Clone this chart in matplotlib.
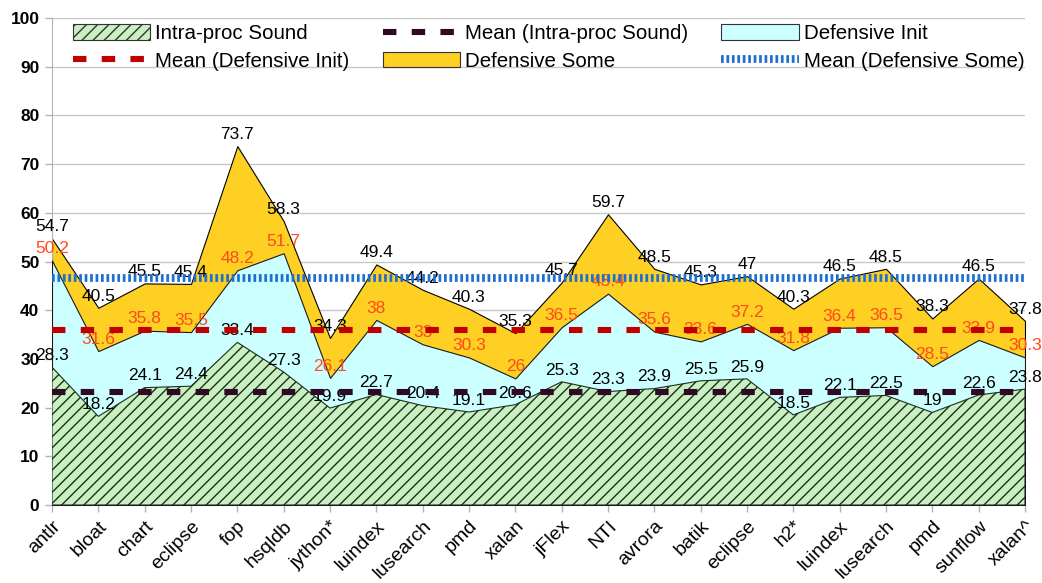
import matplotlib
matplotlib.use("Agg")
import matplotlib.pyplot as plt
from matplotlib.patches import Patch
from matplotlib.lines import Line2D
import numpy as np

plt.rcParams['font.family'] = ['Liberation Sans', 'DejaVu Sans']
plt.rcParams['hatch.linewidth'] = 1.0

benchmarks = ["antlr", "bloat", "chart", "eclipse", "fop", "hsqldb", "jython*",
              "luindex", "lusearch", "pmd", "xalan", "jFlex", "NTI", "avrora",
              "batik", "eclipse", "h2*", "luindex", "lusearch", "pmd", "sunflow",
              "xalan^"]
intra_sound = [28.3, 18.2, 24.1, 24.4, 33.4, 27.3, 19.9, 22.7, 20.4, 19.1, 20.6,
               25.3, 23.3, 23.9, 25.5, 25.9, 18.5, 22.1, 22.5, 19, 22.6, 23.8]
defensive_init = [50.2, 31.6, 35.8, 35.5, 48.2, 51.7, 26.1, 38, 33, 30.3, 26,
                  36.5, 43.4, 35.6, 33.6, 37.2, 31.8, 36.4, 36.5, 28.5, 33.9, 30.3]
defensive_some = [54.7, 40.5, 45.5, 45.4, 73.7, 58.3, 34.3, 49.4, 44.2, 40.3, 35.3,
                  45.7, 59.7, 48.5, 45.3, 47, 40.3, 46.5, 48.5, 38.3, 46.5, 37.8]

C_SOME = '#fdd023'
C_INIT = '#ccffff'
C_INTRA = '#c8f0c0'
C_MEAN_INTRA = '#2e0a24'
C_MEAN_INIT = '#c00000'
C_MEAN_SOME = '#1f6fd0'

fig = plt.figure(figsize=(10.42, 5.83), dpi=100)
ax = fig.add_axes([52 / 1042, 78 / 583, 973 / 1042, 487 / 583])
x = np.arange(len(benchmarks))

ax.fill_between(x, defensive_some, facecolor=C_SOME, edgecolor='black', lw=0.8, zorder=2)
ax.fill_between(x, defensive_init, facecolor=C_INIT, edgecolor='#1a1a1a', lw=0.8, zorder=3)
ax.fill_between(x, intra_sound, facecolor=C_INTRA, edgecolor='#1e2e1e', hatch='///',
                lw=0.8, zorder=4)

def label_series(vals, color):
    for xi, v in zip(x, vals):
        ax.annotate(f"{v:g}", (xi, v), xytext=(0, 3), textcoords='offset points',
                    ha='center', va='bottom', fontsize=12.5, color=color,
                    zorder=5, annotation_clip=False)

label_series(defensive_some, 'black')
label_series(defensive_init, '#ff4a1a')
label_series(intra_sound, 'black')

mean_intra = np.mean(intra_sound)
mean_init = np.mean(defensive_init)
mean_some = np.mean(defensive_some)

dash = (0, (2.2, 2.5))
dots = (0, (0.35, 0.35))
ax.plot([0, len(x) - 1], [mean_intra] * 2, color=C_MEAN_INTRA, lw=4.4, ls=dash, zorder=6)
ax.plot([0, len(x) - 1], [mean_init] * 2, color=C_MEAN_INIT, lw=4.4, ls=dash, zorder=6)
ax.plot([0, len(x) - 1], [mean_some] * 2, color=C_MEAN_SOME, lw=5.6, ls=dots, zorder=6)

ax.set_xlim(0, len(x) - 1)
ax.set_ylim(0, 100)
ax.set_yticks(np.arange(0, 101, 10))
ax.set_yticklabels([str(v) for v in range(0, 101, 10)], fontsize=12.5, fontweight='bold')
ax.set_xticks(x)
ax.set_xticklabels(benchmarks, rotation=45, ha='right', rotation_mode='anchor', fontsize=14)
ax.tick_params(axis='both', color='#b3b3b3', length=5, width=1)
ax.tick_params(axis='y', pad=4)
ax.tick_params(axis='x', pad=4)
ax.grid(axis='y', color='#c8c8c8', lw=1, zorder=0)
ax.set_axisbelow(True)
for s in ['top', 'right']:
    ax.spines[s].set_visible(False)
for s in ['left', 'bottom']:
    ax.spines[s].set_color('#b3b3b3')

handles = [
    Patch(facecolor=C_INTRA, edgecolor='#333333', hatch='///', lw=0.8),
    Line2D([], [], color=C_MEAN_INIT, lw=4.4, ls=dash),
    Line2D([], [], color=C_MEAN_INTRA, lw=4.4, ls=dash),
    Patch(facecolor=C_SOME, edgecolor='#333333', lw=0.8),
    Patch(facecolor=C_INIT, edgecolor='#333333', lw=0.8),
    Line2D([], [], color=C_MEAN_SOME, lw=5.6, ls=dots),
]
labels = ["Intra-proc Sound", "Mean (Defensive Init)", "Mean (Intra-proc Sound)",
          "Defensive Some", "Defensive Init", "Mean (Defensive Some)"]
ax.legend(handles, labels, ncol=3, loc='upper left', bbox_to_anchor=(21 / 973, 0.987),
          frameon=False, fontsize=14.8, handlelength=3.75, handletextpad=0.25,
          columnspacing=1.62, labelspacing=0.4, borderaxespad=0, borderpad=0,
          handleheight=0.8)

fig.savefig('out.png', dpi=100)
